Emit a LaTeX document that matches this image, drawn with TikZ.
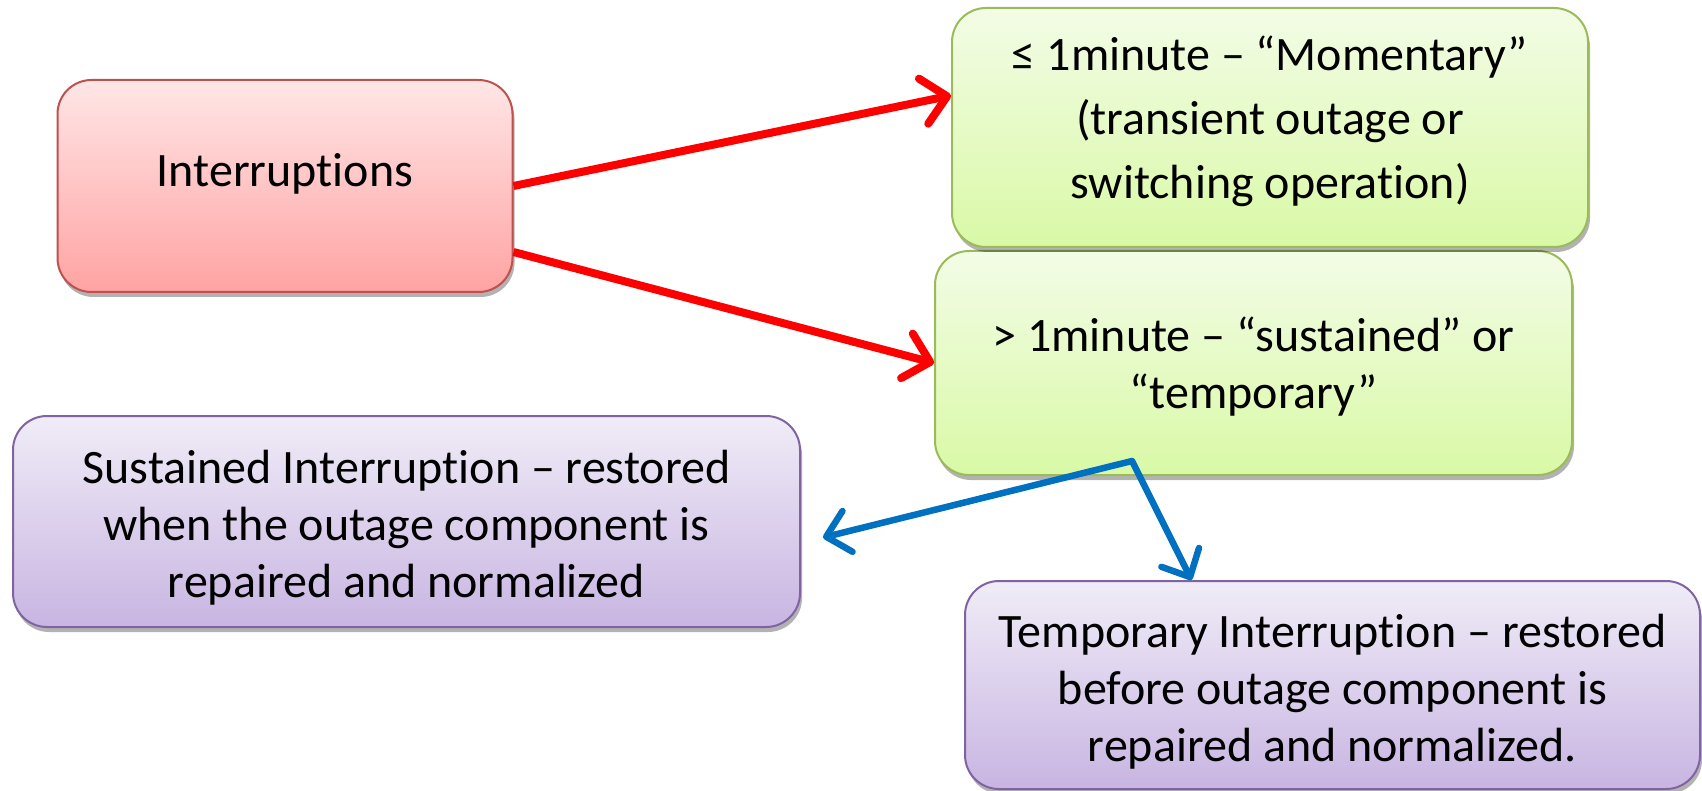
\documentclass[tikz,border=0pt]{standalone}
\usepackage{fontspec}
\setmainfont{Carlito}[Ligatures=NoCommon]
\usetikzlibrary{arrows.meta,shadows,calc}
\definecolor{redln}{HTML}{FF0000}
\definecolor{blueln}{HTML}{0070C0}
\definecolor{pinktop}{HTML}{FFE6E6}
\definecolor{pinkbot}{HTML}{FFA3A3}
\definecolor{pinkbd}{HTML}{C0504D}
\definecolor{greentop}{HTML}{F3FCE6}
\definecolor{greenbot}{HTML}{D9F9A6}
\definecolor{greenbd}{HTML}{9BBB59}
\definecolor{purptop}{HTML}{F0ECF7}
\definecolor{purpbot}{HTML}{C8B5E2}
\definecolor{purpbd}{HTML}{8064A2}
\tikzset{
  boxbase/.style={rectangle, rounded corners=34pt, line width=2pt, inner sep=0pt,
    drop shadow={shadow xshift=2pt,shadow yshift=-5pt,opacity=0.3,fill=black}},
  pinkbox/.style={boxbase, draw=pinkbd, top color=pinktop, bottom color=pinkbot},
  greenbox/.style={boxbase, draw=greenbd, top color=greentop, bottom color=greenbot},
  purpbox/.style={boxbase, draw=purpbd, top color=purptop, bottom color=purpbot},
  txt/.style={align=center, inner sep=0pt, font=\fontsize{48}{57}\selectfont},
  redarr/.style={draw=redln, line width=8pt, -{Straight Barb[length=24pt,width=46pt,round]}},
  bluearr/.style={draw=blueln, line width=6.5pt, {Straight Barb[length=22pt,width=42pt,round]}-{Straight Barb[length=22pt,width=42pt,round]}},
}
\begin{document}
\begin{tikzpicture}[x=1pt,y=-1pt]
\useasboundingbox (0,0) rectangle (1702,791);
% boxes
\node[pinkbox, minimum width=455pt, minimum height=212pt] (int) at (285,186) {};
\node[greenbox, minimum width=637pt, minimum height=224pt] (stm) at (1253.5,363) {};
\node[greenbox, minimum width=636pt, minimum height=239pt] (mom) at (1270,127.5) {};
\node[purpbox, minimum width=787pt, minimum height=211pt] (sust) at (406.5,521.5) {};
\node[purpbox, minimum width=735pt, minimum height=208pt] (temp) at (1332.5,685) {};
% texts
\node[txt] (intt) at (285,174) {Interruptions};
\node[txt, font=\fontsize{48}{64}\selectfont] (momt) at (1270,121) {≤ 1minute – “Momentary”\\(transient outage or\\switching operation)};
\node[txt] (stmt) at (1253.5,367) {> 1minute – “sustained” or\\“temporary”};
\node[txt] (sustt) at (406.5,528) {Sustained Interruption – restored\\when the outage component is\\repaired and normalized};
\node[txt] (tempt) at (1332.5,692) {Temporary Interruption – restored\\before outage component is\\repaired and normalized.};
% connectors
\coordinate (split) at (1132,461);
\draw[redarr] (int.east) -- ([yshift=32pt]mom.west);
\draw[redarr] ([yshift=-66pt]int.east) -- (stm.west);
\draw[bluearr, line join=round] ([xshift=22pt,yshift=-16pt]sust.east) -- (split) -- ([xshift=-141pt]temp.north);
\end{tikzpicture}
\end{document}
